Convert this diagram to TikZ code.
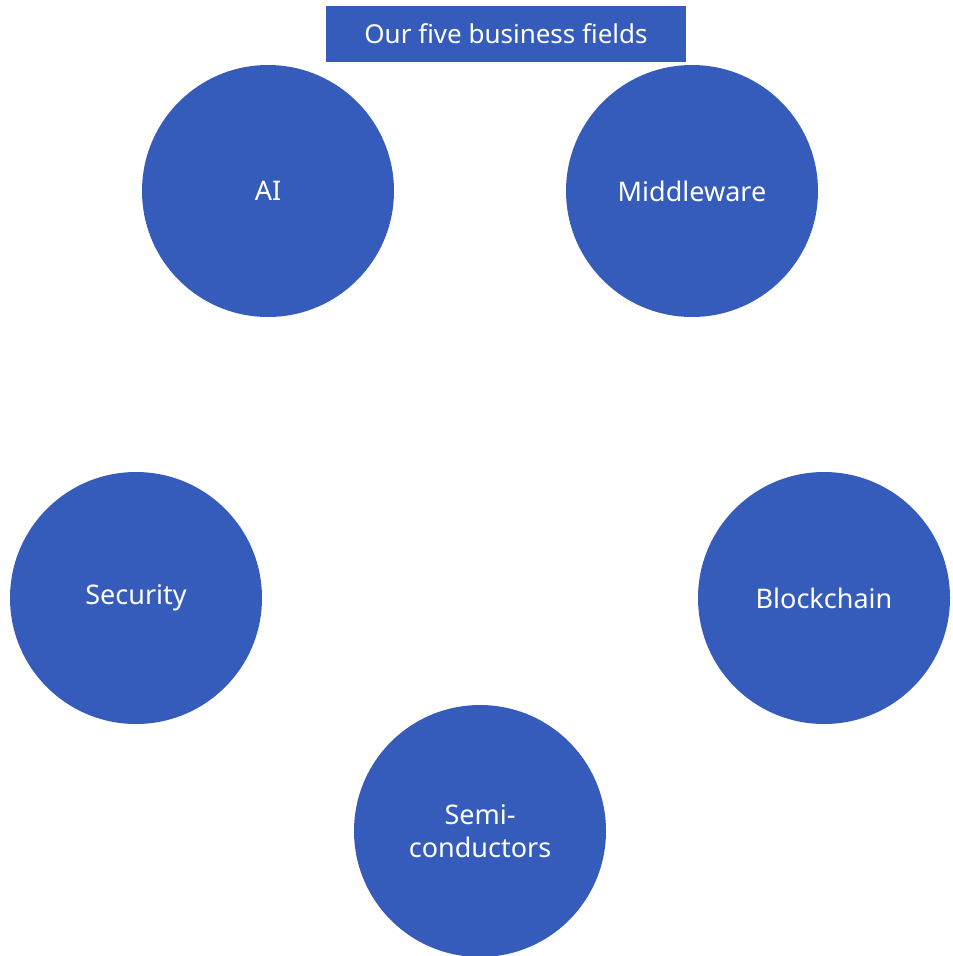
\documentclass[tikz,border=0pt]{standalone}
\usepackage{fontspec}
\setmainfont{Noto Sans}
\definecolor{fblue}{HTML}{365CBB}
\begin{document}
\begin{tikzpicture}[x=1pt,y=-1pt,
  field/.style={circle,fill=fblue,minimum size=252pt,inner sep=0pt,text=white,font=\fontsize{27}{33}\selectfont\bfseries,align=center},
  titlebox/.style={fill=fblue,text=white,minimum width=360pt,minimum height=56pt,inner sep=0pt,font=\fontsize{26}{30}\selectfont\bfseries}]
\useasboundingbox (0,0) rectangle (953,956);
\node[titlebox] (title) at (506,34) {Our five business fields};
\node[field] (ai) at (268,191) {AI};
\node[field] (mw) at (692,191) {Middleware};
\node[field] (sec) at (136,598) {Security};
\node[field] (bc) at (824,598) {Blockchain};
\node[field] (semi) at (480,831) {Semi-\\conductors};
\end{tikzpicture}
\end{document}
